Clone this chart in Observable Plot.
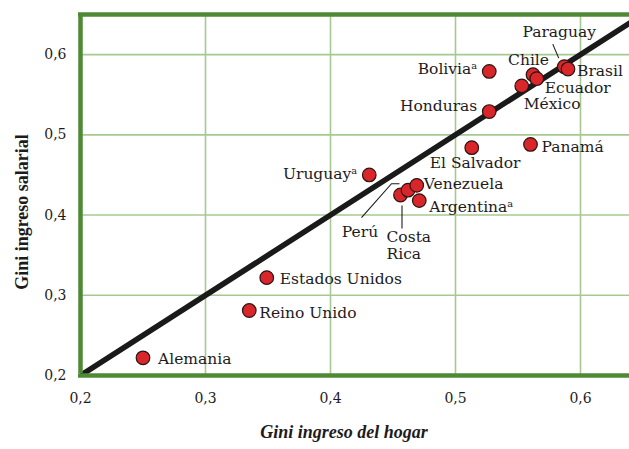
<!DOCTYPE html>
<html>
<head>
<meta charset="utf-8">
<script src="https://cdn.jsdelivr.net/npm/d3@7"></script>
<script src="https://cdn.jsdelivr.net/npm/@observablehq/plot@0.6"></script>
<style>
  html, body { margin: 0; padding: 0; background: #fff; }
  svg { display: block; }
</style>
</head>
<body>
<div id="chart"></div>
<script>
// ---- data ----
const countries = ["Alemania","Reino Unido","Estados Unidos","Uruguayᵃ","Costa\nRica","Perú","Venezuela","Argentinaᵃ","El Salvador","Panamá","Honduras","Boliviaᵃ","México","Chile","Ecuador","Paraguay","Brasil"];
const hogar    = [0.250, 0.335, 0.349, 0.431, 0.456, 0.462, 0.469, 0.471, 0.513, 0.560, 0.527, 0.527, 0.553, 0.562, 0.565, 0.587, 0.590];
const salarial = [0.222, 0.281, 0.322, 0.450, 0.425, 0.431, 0.437, 0.418, 0.484, 0.488, 0.529, 0.579, 0.561, 0.575, 0.570, 0.585, 0.582];
const xTicks = [0.2, 0.3, 0.4, 0.5, 0.6];
const yTicks = [0.2, 0.3, 0.4, 0.5, 0.6];
const gridValues = [0.3, 0.4, 0.5, 0.6];
const xTitle = "Gini ingreso del hogar";
const yTitle = "Gini ingreso salarial";

// ---- label layout (pixel offsets) ----
const labelLayout = [
  {dx: 15, dy: 1, anchor: "start"},
  {dx: 10, dy: 2, anchor: "start"},
  {dx: 13, dy: 1, anchor: "start"},
  {dx: -12, dy: -2, anchor: "end"},
  {dx: -14, dy: 50, anchor: "start"},
  {dx: -48, dy: 41, anchor: "middle"},
  {dx: 7, dy: -2, anchor: "start"},
  {dx: 10, dy: 6, anchor: "start"},
  {dx: -42, dy: 15, anchor: "start"},
  {dx: 11, dy: 2, anchor: "start"},
  {dx: -12, dy: -6, anchor: "end"},
  {dx: -12, dy: -3, anchor: "end"},
  {dx: 2, dy: 18, anchor: "start"},
  {dx: 16, dy: -15, anchor: "end"},
  {dx: 8, dy: 9, anchor: "start"},
  {dx: -5, dy: -35, anchor: "middle"},
  {dx: 9, dy: 1, anchor: "start"}
];
const leaders = [
  {i: 15, pts: [[-11,-22],[-5,-8]]},
  {i: 5, pts: [[-46,28],[-16,-6],[-8,-6]]},
  {i: 4, pts: [[2,11],[2,34]]}
];

const data = countries.map((c, i) => ({name: c, x: hogar[i], y: salarial[i], ...labelLayout[i]}));
const fmt = d => d3.format(".1f")(d).replace(".", ",");
const frameGreen = "#4e8a34";
const gridGreen = "#a6c992";
const serif = "'DejaVu Serif', serif";
const ink = "#1e1b1c";

const chart = Plot.plot({
  width: 629,
  height: 449,
  marginLeft: 80,
  marginRight: 0,
  marginTop: 14,
  marginBottom: 74,
  style: {fontFamily: serif, fontSize: "14px", color: ink, background: "#fff"},
  x: {domain: [0.2, 0.6392], ticks: xTicks, tickFormat: fmt, label: null, tickSize: 0, tickPadding: 18},
  y: {domain: [0.2, 0.65], ticks: yTicks, tickFormat: fmt, label: null, tickSize: 0, tickPadding: 14},
  marks: [
    Plot.ruleX(gridValues, {stroke: gridGreen, strokeWidth: 1.6}),
    Plot.ruleY(gridValues, {stroke: gridGreen, strokeWidth: 1.6}),
    Plot.line([[0.2, 0.2], [0.65, 0.65]], {x: d => d[0], y: d => d[1], stroke: "#1a1a1a", strokeWidth: 5.5, clip: true}),
    Plot.ruleX([0.2], {stroke: frameGreen, strokeWidth: 4.5, y1: 0.2, y2: 0.65, insetTop: -2, insetBottom: -2}),
    Plot.ruleY([0.2, 0.65], {stroke: frameGreen, strokeWidth: 4.5, x1: 0.2, x2: 0.6392, insetLeft: -2}),
    Plot.dot(data, {x: "x", y: "y", r: 6.8, fill: "#d8262a", stroke: "#2a1414", strokeWidth: 1.2}),
    ...data.map(d => Plot.text([d], {x: "x", y: "y", text: "name", textAnchor: d.anchor, dx: d.dx, dy: d.dy,
      fontSize: 15.5, fontFamily: serif, fill: ink, lineHeight: 1.12})),
    Plot.text([yTitle], {frameAnchor: "left", textAnchor: "middle", text: d => d, rotate: -90, dx: -58, dy: 17,
      fontSize: 18, fontWeight: "bold", fontFamily: "'Liberation Serif', serif", fill: ink}),
    Plot.text([xTitle], {frameAnchor: "bottom", textAnchor: "middle", text: d => d, dx: -11, dy: 62,
      fontSize: 18, fontWeight: "bold", fontStyle: "italic", fontFamily: "'Liberation Serif', serif", fill: ink})
  ]
});

// leader lines derived from data positions through the scales
const sx = chart.scale("x"), sy = chart.scale("y");
const svg = d3.select(chart);
leaders.forEach(l => {
  const px = sx.apply(hogar[l.i]), py = sy.apply(salarial[l.i]);
  svg.append("path")
    .attr("d", d3.line()(l.pts.map(p => [px + p[0], py + p[1]])))
    .attr("fill", "none").attr("stroke", ink).attr("stroke-width", 1.1);
});

document.getElementById("chart").appendChild(chart);
</script>
</body>
</html>
